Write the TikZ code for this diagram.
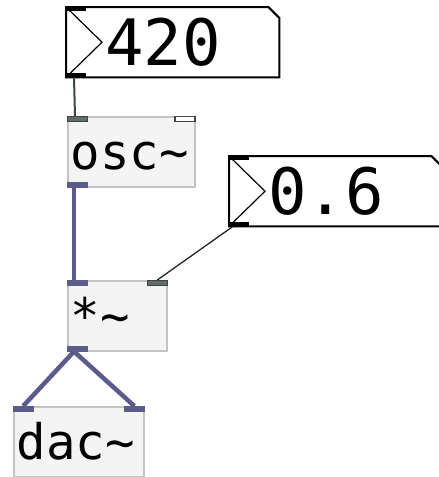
\documentclass[tikz,border=0pt]{standalone}
\usepackage{fontspec}
\usepackage{tikz}
\usetikzlibrary{positioning, calc}
\newfontfamily\pdmono{DejaVu Sans Mono}
\definecolor{sigcol}{HTML}{5C5C8C}
\definecolor{ctlcol}{HTML}{3C4646}
\definecolor{objfill}{HTML}{F4F4F4}
\definecolor{objline}{HTML}{C4C4C4}

\begin{document}
\begin{tikzpicture}[
    x=1pt, y=-1pt,
    obj/.style={draw=objline, line width=1.5pt, fill=objfill, rectangle, anchor=north west, minimum height=70pt, inner xsep=3pt, inner ysep=0pt, text height=38pt, text depth=2pt, align=left, font=\pdmono\fontsize{49}{49}\selectfont},
    numbox/.style={rectangle, fill=white, anchor=north west, minimum height=70pt, inner xsep=39pt, inner ysep=0pt, text width=135pt, align=left, font=\pdmono\fontsize{64}{64}\selectfont},
    nboxline/.style={draw=black, line width=2pt, line join=miter},
    nboxtri/.style={draw=black, line width=1.2pt},
    nboxio/.style={rectangle, fill=black, minimum width=20pt, minimum height=4pt, inner sep=0pt},
    sigio/.style={rectangle, draw=sigcol, fill=sigcol, minimum width=20pt, minimum height=5pt, inner sep=0pt},
    ctlio/.style={rectangle, draw=ctlcol, fill=ctlcol!80, minimum width=20pt, minimum height=5pt, inner sep=0pt},
    hollowio/.style={rectangle, draw=ctlcol, line width=1.2pt, fill=white, minimum width=20pt, minimum height=5pt, inner sep=0pt},
    ctlwire/.style={draw=ctlcol, line width=2pt},
    thinwire/.style={draw=black!85, line width=1.3pt},
    sigwire/.style={draw=sigcol, line width=4.5pt}
]

\path[use as bounding box, fill=white] (0,0) rectangle (439,477);
\clip (0,0) rectangle (439,477);

% Number boxes
\node[numbox] (n420) at (66,7) {420};
\draw[nboxline] (n420.north west) -- ([xshift=-11pt]n420.north east) -- ([yshift=-11pt]n420.north east) -- (n420.south east) -- (n420.south west) -- cycle;
\draw[nboxtri] (n420.north west) -- ([xshift=36pt]n420.west) -- (n420.south west);
\node[nboxio, anchor=north west] (n420-in) at (n420.north west) {};
\node[nboxio, anchor=south west] (n420-out) at (n420.south west) {};

\node[numbox] (n06) at (229,156) {0.6};
\draw[nboxline] (n06.north west) -- ([xshift=-11pt]n06.north east) -- ([yshift=-11pt]n06.north east) -- (n06.south east) -- (n06.south west) -- cycle;
\draw[nboxtri] (n06.north west) -- ([xshift=36pt]n06.west) -- (n06.south west);
\node[nboxio, anchor=north west] (n06-in) at (n06.north west) {};
\node[nboxio, anchor=south west] (n06-out) at (n06.south west) {};

% Objects
\node[obj, text width=121pt] (osc) at (67,116) {osc\textasciitilde};
\node[ctlio, anchor=north west] (osc-in0) at (osc.north west) {};
\node[hollowio, anchor=north east] (osc-in1) at (osc.north east) {};
\node[sigio, anchor=south west] (osc-out) at (osc.south west) {};

\node[obj, text width=93pt] (mul) at (67,280) {*\textasciitilde};
\node[sigio, anchor=north west] (mul-in0) at (mul.north west) {};
\node[ctlio, anchor=north east] (mul-in1) at (mul.north east) {};
\node[sigio, anchor=south west] (mul-out) at (mul.south west) {};

\node[obj, text width=124pt] (dac) at (13,406) {dac\textasciitilde};
\node[sigio, anchor=north west] (dac-in0) at (dac.north west) {};
\node[sigio, anchor=north east] (dac-in1) at (dac.north east) {};

% Connections
\draw[ctlwire] ([xshift=8pt]n420-out.south west) -- ([xshift=8pt]osc-in0.north west);
\draw[sigwire] ([xshift=7pt]osc-out.south west) -- ([xshift=7pt]mul-in0.north west);
\draw[thinwire] ([xshift=4pt]n06-out.south west) -- (mul-in1.north);
\draw[sigwire] ([xshift=7pt]mul-out.south west) -- (dac-in0.north);
\draw[sigwire] ([xshift=7pt]mul-out.south west) -- (dac-in1.north);

\end{tikzpicture}
\end{document}
